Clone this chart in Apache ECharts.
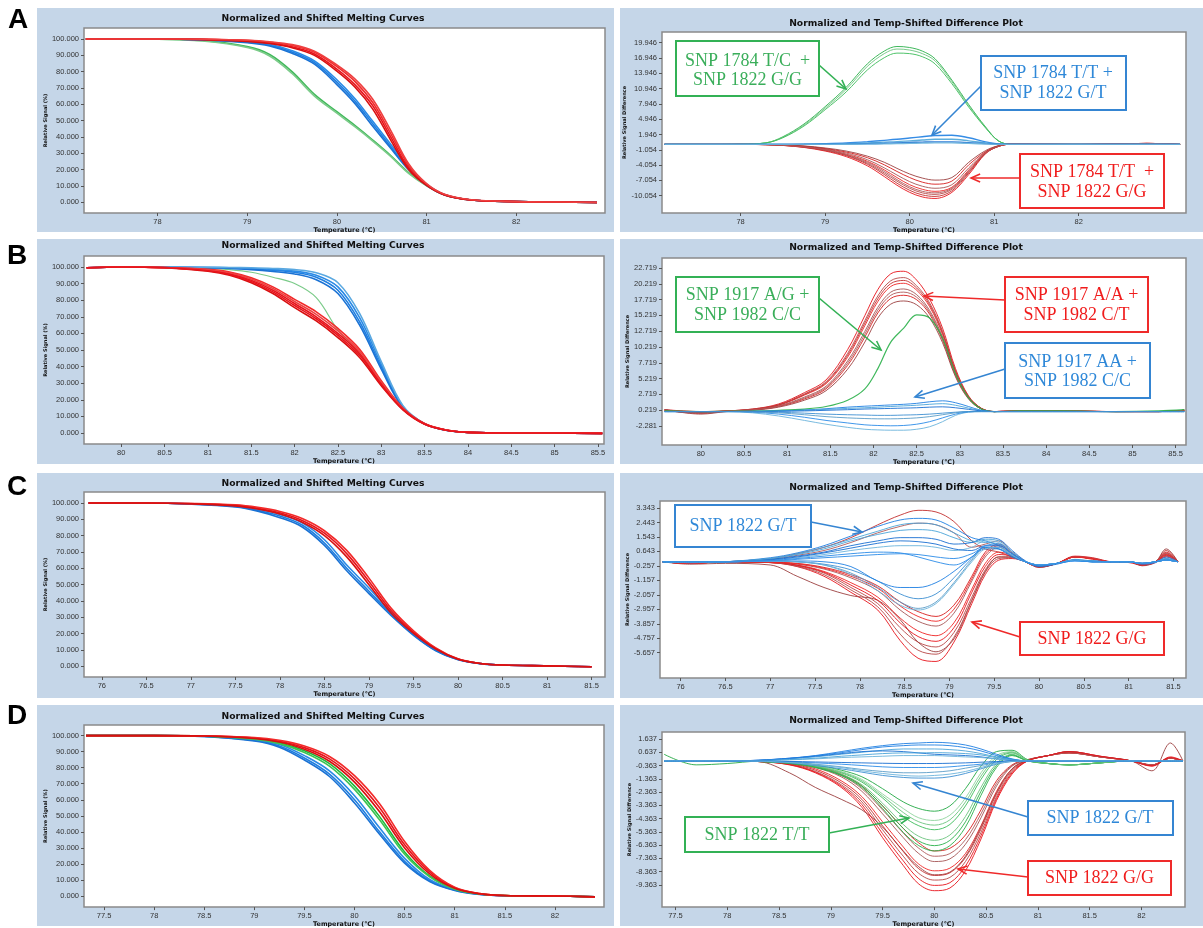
<!DOCTYPE html>
<html><head><meta charset="utf-8">
<script src="https://cdn.jsdelivr.net/npm/echarts@6/dist/echarts.min.js"></script>
<style>html,body{margin:0;padding:0;background:#fff}#c{width:1203px;height:928px}</style>
</head><body><div id="c"></div>
<script>
// ================= DATA =================
// ---- Panel A ----
const aMeltT = [77.2,78,78.5,79,79.25,79.5,79.75,80,80.2,80.4,80.6,80.8,81,81.2,81.5,82,82.5,82.9];
const aMeltRed = [
  [100,100,99.7,98.8,97.6,95.2,90.8,81.5,72,59,40,21,10.5,4.5,1.3,0.3,0,-0.3],
  [100,100,99.8,99.1,98.0,96.0,91.8,83.0,74,61,42,22.5,11,4.7,1.3,0.3,0,-0.3],
  [100,100,99.6,98.5,97.2,94.6,89.9,80.2,70.5,57,38,20,10.2,4.4,1.3,0.3,0,-0.3],
  [100,100,99.8,99.2,98.3,96.5,92.5,84,75.5,63,44,23.5,11.3,4.8,1.4,0.3,0,-0.2]
];
const aMeltBlue = [
  [100,100,99.5,98,96.2,92,85.5,73.5,62,48,34,20.5,10.5,4.5,1.3,0.3,0,-0.2],
  [100,100,99.6,98.3,96.7,92.8,86.5,75,63.5,49.5,35.5,21.5,11,4.6,1.3,0.3,0,-0.2],
  [100,100,99.4,97.7,95.7,91.2,84.5,72,60.5,46.5,33,19.8,10.2,4.4,1.3,0.3,0,-0.2]
];
const aMeltGreen = [
  [100,99.9,99,95.3,90.5,80,66,55.4,47,38,28.5,18,10.2,4.5,1.3,0.3,0,-0.2],
  [100,99.8,98.7,94.7,89.5,78.8,65,54.5,46.2,37.4,28,17.6,10,4.4,1.3,0.3,0,-0.2]
];
const aDiffT = [77.1,77.6,78,78.3,78.5,78.75,79,79.25,79.5,79.7,79.85,80,80.15,80.3,80.5,80.7,80.9,81.05,81.2,81.5,82,82.5,82.8,83.2];
const aDiffGreen = [
  [0,0,0.05,0.3,1.5,4.0,7.4,11.2,15.8,18.3,19.2,19.0,18.3,16.8,12.6,7.8,3.4,0.7,0,0,0,0,0,0],
  [0,0,0.05,0.3,1.4,3.8,7.1,10.8,15.3,17.8,18.7,18.5,17.8,16.4,12.3,7.6,3.3,0.7,0,0,0,0,0,0],
  [0,0,0.05,0.3,1.3,3.6,6.8,10.3,14.6,17.0,17.9,17.8,17.2,15.8,11.9,7.3,3.2,0.7,0,0,0,0,0,0]
];
const aDiffBlue = [
  [0,0,0,0,0,0.05,0.15,0.3,0.55,0.8,1.0,1.25,1.5,1.75,1.8,1.3,0.5,0.1,0,0,0,0,0,0],
  [0,0,0,0,0,0.02,0.08,0.15,0.3,0.45,0.55,0.7,0.85,1.0,1.0,0.7,0.3,0.05,0,0,0,0,0,0],
  [0,0,0,0,0,0,0.03,0.08,0.15,0.22,0.3,0.38,0.45,0.5,0.5,0.35,0.15,0.02,0,0,0,0,0,0],
  [0,0,0,0,0,0,0,0.02,0.05,0.1,0.15,0.2,0.25,0.3,0.3,0.2,0.08,0,0,0,0,0,0,0]
];
const aDiffRed = [
  [0,0,0,-0.05,-0.2,-0.6,-1.3,-2.4,-4.2,-6.3,-8.0,-9.4,-10.3,-10.6,-9.4,-5.9,-1.8,-0.4,0.05,0.05,0,0.1,0.2,0],
  [0,0,0,-0.05,-0.2,-0.5,-1.1,-2.1,-3.7,-5.6,-7.2,-8.6,-9.5,-9.8,-8.8,-5.4,-1.7,-0.4,0.05,0.05,0,0.1,0.15,0],
  [0,0,0,-0.05,-0.15,-0.45,-1.0,-1.9,-3.3,-5.0,-6.5,-7.9,-8.8,-9.2,-8.4,-5.0,-1.6,-0.35,0.05,0,0,0.1,0.2,0],
  [0,0,0,-0.04,-0.15,-0.4,-0.9,-1.7,-3.0,-4.6,-6.0,-7.3,-8.2,-8.6,-7.9,-4.6,-1.5,-0.3,0.05,0,0,0.05,0.15,0],
  [0,0,0,-0.03,-0.1,-0.35,-0.8,-1.5,-2.6,-4.0,-5.3,-6.5,-7.4,-7.8,-7.2,-4.0,-1.4,-0.3,0.05,0,0,0.1,0.2,0],
  [0,0,0,-0.03,-0.1,-0.3,-0.7,-1.3,-2.3,-3.5,-4.7,-5.8,-6.6,-7.0,-6.5,-3.5,-1.2,-0.25,0.05,0,0,0.05,0.1,0],
  [0,0,0,-0.04,-0.18,-0.55,-1.2,-2.2,-3.9,-5.9,-7.6,-9.0,-9.9,-10.2,-9.1,-5.6,-1.75,-0.4,0.05,0.05,0,0.1,0.2,0],
  [0,0,0,-0.04,-0.17,-0.48,-1.05,-2.0,-3.5,-5.3,-6.9,-8.3,-9.2,-9.5,-8.6,-5.2,-1.65,-0.38,0.05,0.03,0,0.08,0.18,0]
];
// ---- Panel B ----
const bMeltT = [79.6,80,80.5,81,81.25,81.5,81.75,82,82.25,82.5,82.75,83,83.25,83.5,83.75,84,84.5,85,85.55];
const bMeltRed = [
  [99.5,100,99.6,98,96,92,86,78,70,60,48,30,14.5,5.5,1.8,0.4,0,0,-0.2],
  [99.5,100,99.7,98.6,97,93.5,88,80.5,73,63,50.5,31.5,15,5.7,1.8,0.4,0,0,-0.2],
  [99.5,100,99.5,97.4,95,90.5,84,75.5,67.5,57.5,45.5,28.5,14,5.3,1.7,0.4,0,0,-0.2],
  [99.5,100,99.6,98.3,96.5,92.8,87,79.2,71.5,61.5,49.2,30.8,14.8,5.6,1.8,0.4,0,0,-0.2],
  [99.5,100,99.5,97.7,95.5,91.3,85,76.8,68.8,58.8,46.8,29.2,14.2,5.4,1.7,0.4,0,0,-0.2]
];
const bMeltBlue = [
  [99.5,100,99.8,99.6,99.3,98.8,98,96.8,93.8,86,67,40,15.5,5.5,1.7,0.4,0,0,-0.2],
  [99.5,100,99.8,99.7,99.5,99.1,98.5,97.5,95,88,69.5,41.5,16,5.6,1.7,0.4,0,0,-0.2],
  [99.5,100,99.8,99.5,99.1,98.4,97.3,95.8,92.3,84,65,38.5,15,5.4,1.7,0.4,0,0,-0.2],
  [99.5,100,99.9,99.8,99.7,99.5,99.1,98.4,96.5,90.5,72,43,16.5,5.7,1.7,0.4,0,0,-0.2]
];
const bMeltGreen = [
  [99.5,100,99.8,99.2,98.4,96.8,93.8,90,81.5,62,47.5,30,14.5,5.5,1.8,0.4,0,0,-0.2]
];
const bDiffT = [79.58,80,80.3,80.6,80.9,81.2,81.45,81.7,81.9,82.05,82.2,82.35,82.5,82.65,82.8,82.95,83.1,83.25,83.4,83.7,84.2,84.8,85.3,85.6];
const bDiffRed = [
  [0.3,0,0.1,0.4,1.2,3.0,5.0,9.8,15.2,19.3,21.8,22.2,20.8,17.8,13.2,6.8,2.5,0.5,0,0.1,0.1,0,0,0.2],
  [0.2,0,0.1,0.4,1.1,2.8,4.7,9.2,14.4,18.3,20.7,21.2,19.9,17.2,12.7,6.5,2.4,0.5,0,0.1,0.1,0,0,0.2],
  [0.2,-0.2,0.1,0.3,1.0,2.6,4.4,8.6,13.6,17.4,19.8,20.3,19.2,16.6,12.2,6.2,2.3,0.5,0,0.1,0.1,0,0,0.2],
  [0.3,-0.1,0.1,0.3,0.9,2.3,4.0,8.0,12.7,16.5,18.9,19.4,18.5,16.0,11.8,6.0,2.2,0.4,0,0.1,0.1,0,0,0.2],
  [0.2,-0.3,0.05,0.25,0.8,2.0,3.6,7.3,11.8,15.6,17.9,18.4,17.7,15.4,11.3,5.7,2.1,0.4,0,0.1,0.05,0,0,0.2],
  [0.3,-0.4,0,0.2,0.7,1.8,3.3,6.7,11.0,14.8,17.0,17.5,16.9,14.8,10.9,5.5,2.0,0.4,0,0.1,0.05,0,0,0.2],
  [0.25,-0.15,0.1,0.35,1.05,2.7,4.55,8.9,14.0,17.85,20.25,20.75,19.55,16.9,12.45,6.35,2.35,0.5,0,0.1,0.1,0,0,0.2],
  [0.25,-0.25,0.08,0.28,0.85,2.15,3.8,7.65,12.25,16.05,18.4,18.9,18.1,15.7,11.55,5.85,2.15,0.4,0,0.1,0.05,0,0,0.2]
];
const bDiffGreen = [
  [0.1,0,0.05,0.1,0.2,0.4,0.8,1.8,3.6,6.8,11.0,13.2,15.3,14.8,11.6,6.0,2.2,0.4,0,0.1,0.1,0,0.1,0.3]
];
const bDiffBlue = [
  [0,0,0,0.05,0.1,0.25,0.45,0.7,0.85,0.95,1.05,1.15,1.3,1.55,1.7,1.4,0.8,0.2,0,0,0,0,0,0],
  [0,0,0,0.03,0.08,0.2,0.35,0.5,0.6,0.7,0.8,0.9,1.0,1.15,1.25,1.0,0.55,0.15,0,0,0,0,0,0],
  [0,0,0,0,0.05,0.1,0.2,0.3,0.4,0.45,0.5,0.55,0.6,0.7,0.75,0.6,0.35,0.1,0,0,0,0,0,0],
  [0,0,0,-0.2,-0.7,-1.4,-2.0,-2.5,-2.8,-2.9,-2.95,-2.95,-2.8,-2.4,-1.6,-0.6,-0.1,0,0,0,0,0,0,0],
  [0,0,0,-0.1,-0.4,-0.9,-1.4,-1.8,-2.1,-2.2,-2.25,-2.2,-2.0,-1.6,-1.0,-0.4,-0.05,0,0,0,0,0,0,0],
  [0,0,0,-0.05,-0.2,-0.5,-0.8,-1.0,-1.1,-1.15,-1.15,-1.1,-1.0,-0.8,-0.5,-0.2,0,0,0,0,0,0,0,0],
  [0,0,0,0,-0.1,-0.25,-0.4,-0.5,-0.55,-0.6,-0.6,-0.55,-0.5,-0.4,-0.25,-0.1,0,0,0,0,0,0,0,0]
];
// ---- Panel C ----
const cMeltT = [75.85,76.5,77,77.5,77.75,78,78.25,78.5,78.75,79,79.25,79.5,79.75,80,80.25,80.5,81,81.5];
const cMeltRed = [
  [100,100,99.6,98.5,96.8,94,89.3,81.5,69,52,34,21,11,4.5,1.8,0.8,0.3,-0.2],
  [100,100,99.7,98.8,97.3,94.8,90.5,83,71,54,35.5,21.8,11.3,4.6,1.8,0.8,0.3,-0.2],
  [100,100,99.5,98.2,96.3,93.2,88.2,80,67,50,32.5,20.2,10.6,4.4,1.8,0.8,0.3,-0.2]
];
const cMeltBlue = [
  [100,100,99.4,97.8,95.5,92,86.5,75.5,60,46,32,19.5,9.8,4.2,1.7,0.8,0.3,-0.2],
  [100,100,99.5,98.1,96.1,93,87.8,77.5,62,48,33,20,10,4.3,1.7,0.8,0.3,-0.2],
  [100,100,99.3,97.5,95,91,85.3,74,58.5,44.5,31,19,9.6,4.1,1.7,0.8,0.3,-0.2]
];
const cDiffT = [75.8,76.1,76.5,77,77.3,77.6,77.9,78.2,78.45,78.65,78.85,79.05,79.25,79.4,79.55,79.7,79.85,80,80.2,80.4,80.6,80.8,81,81.15,81.3,81.42,81.55];
const cDiffRed = [
  [0,-0.1,0,-0.05,-0.3,-0.9,-1.9,-3.0,-4.9,-6.0,-6.2,-5.0,-2.6,-0.8,0.1,0.2,0,-0.35,-0.1,0.35,0.25,0,-0.05,-0.2,-0.05,0.6,0],
  [0,-0.1,0,-0.05,-0.25,-0.7,-1.6,-2.6,-4.1,-5.0,-5.3,-4.4,-2.2,-0.5,0.3,0.3,0,-0.3,-0.1,0.3,0.2,0,0,-0.2,0,0.5,0],
  [0,-0.1,0,-0.05,-0.2,-0.6,-1.3,-2.2,-3.5,-4.3,-4.6,-3.8,-1.7,-0.1,0.6,0.4,0,-0.3,-0.1,0.3,0.2,0,0,-0.2,0,0.4,0],
  [0,-0.1,0,-0.03,-0.15,-0.45,-1.0,-1.8,-3.0,-3.7,-4.0,-3.2,-1.2,0.3,0.9,0.5,0,-0.3,-0.1,0.3,0.2,0,0,-0.2,0,0.4,0],
  [0,-0.1,0,-0.03,-0.1,-0.35,-0.8,-1.5,-2.5,-3.1,-3.4,-2.7,-0.9,0.6,1.1,0.6,0,-0.3,-0.1,0.3,0.15,0,0,-0.2,0,0.3,0],
  [0,-0.15,-0.1,-0.2,-0.9,-1.6,-2.1,-2.4,-3.6,-5.0,-5.6,-4.8,-2.4,-0.6,0.3,0.3,0,-0.35,-0.1,0.3,0.2,0,0,-0.25,0,0.8,0],
  [0,-0.05,0,0.2,0.5,0.9,1.5,2.3,2.9,3.2,3.1,2.5,1.3,0.8,0.6,0.3,0,-0.3,-0.1,0.3,0.2,0,0,-0.2,0,0.7,0],
  [0,-0.05,0,0.15,0.4,0.7,1.2,1.8,2.2,2.4,2.3,1.8,0.9,1.1,1.3,0.6,0,-0.3,-0.1,0.3,0.2,0,0,-0.2,0,0.5,0],
  [0,-0.1,0,-0.04,-0.22,-0.65,-1.45,-2.4,-3.8,-4.65,-4.95,-4.1,-1.9,-0.3,0.45,0.35,0,-0.3,-0.1,0.3,0.2,0,0,-0.2,0,0.45,0],
  [0,-0.1,0,-0.05,-0.28,-0.8,-1.75,-2.8,-4.5,-5.5,-5.75,-4.7,-2.4,-0.65,0.2,0.25,0,-0.32,-0.1,0.32,0.22,0,0,-0.2,0,0.55,0],
  [0,-0.1,0,-0.03,-0.12,-0.4,-0.9,-1.65,-2.75,-3.4,-3.7,-2.95,-1.05,0.45,1.0,0.55,0,-0.3,-0.1,0.3,0.18,0,0,-0.2,0,0.35,0]
];
const cDiffBlue = [
  [0,-0.05,0,0.25,0.55,1.0,1.6,2.2,2.6,2.7,2.6,2.1,1.5,1.3,1.0,0.4,0,-0.2,-0.1,0.1,0.05,0,0,-0.15,-0.05,0.3,0],
  [0,-0.05,0,0.2,0.45,0.8,1.3,1.7,1.95,2.0,1.9,1.5,1.2,1.4,1.3,0.6,0,-0.25,-0.1,0.15,0.05,0,0,-0.1,0,0.15,0],
  [0,-0.05,0,0.15,0.35,0.6,1.0,1.3,1.5,1.5,1.4,1.1,1.2,1.5,1.4,0.7,0.05,-0.3,-0.15,0.1,0.05,0,0,-0.1,0,0.2,0],
  [0,0,0,0.1,0.25,0.45,0.7,0.9,1.0,1.0,0.9,0.7,0.9,1.3,1.2,0.6,0,-0.25,-0.1,0.1,0,0,0,-0.1,0,0.1,0],
  [0,0,0,0.05,0.15,0.25,0.35,0.45,0.5,0.45,0.3,0.2,0.5,0.9,0.8,0.4,0,-0.2,-0.1,0.05,0,0,0,-0.1,0,0.1,0],
  [0,0,0,0.05,0,-0.2,-0.7,-1.6,-2.5,-2.9,-2.5,-1.3,0.1,0.9,0.9,0.4,0,-0.2,-0.1,0.1,0,0,0,-0.1,0,0.1,0],
  [0,0,0,0.05,0,-0.15,-0.5,-1.2,-2.0,-2.3,-2.0,-1.0,0.2,0.8,0.8,0.35,0,-0.2,-0.1,0.1,0,0,0,-0.1,0,0.1,0],
  [0,0,0,0.05,0.05,0,-0.3,-1.2,-1.6,-1.6,-1.3,-0.6,0.3,0.9,0.8,0.3,0,-0.2,-0.1,0.1,0,0,0,-0.1,0,0.1,0],
  [0,-0.05,0,0.2,0.5,0.9,1.4,1.9,2.3,2.4,2.3,1.8,1.3,1.2,1.1,0.5,0,-0.2,-0.1,0.1,0.05,0,0,-0.1,0,0.2,0],
  [0,0,0,0.12,0.3,0.55,0.85,1.15,1.3,1.25,1.1,0.8,0.7,1.0,1.0,0.5,0,-0.25,-0.1,0.1,0,0,0,-0.1,0,0.1,0],
  [0,0,0,0.05,0,-0.2,-0.8,-1.8,-2.7,-3.0,-2.6,-1.4,0.0,0.8,0.9,0.4,0,-0.2,-0.1,0.1,0,0,0,-0.1,0,0.1,0],
  [0,0,0,0.08,0.2,0.35,0.5,0.6,0.55,0.3,0.0,-0.2,0.3,1.0,1.1,0.5,0,-0.2,-0.1,0.05,0,0,0,-0.1,0,0.1,0]
];
// ---- Panel D ----
const dMeltT = [77.32,78,78.5,79,79.25,79.5,79.75,80,80.25,80.5,80.75,81,81.25,81.5,82,82.4];
const dMeltRed = [
  [100,100,99.8,98.5,96.5,92.5,85.5,73,55,32,15,5.2,1.5,0.3,0,-0.5],
  [100,100,99.8,98.8,97,93.5,87,75,57.5,34,16,5.5,1.5,0.3,0,-0.5],
  [100,100,99.7,98.2,96,91.5,84,71,52.5,30,13.8,4.8,1.4,0.3,0,-0.5]
];
const dMeltGreen = [
  [100,100,99.7,98,95.5,90.5,82.5,68.5,49.5,27.5,12.5,4.5,1.3,0.3,0,-0.5],
  [100,100,99.6,97.7,95,89.5,81,66.5,47.5,26,12,4.3,1.3,0.3,0,-0.5]
];
const dMeltBlue = [
  [100,100,99.5,97,93.5,86,76,60,40,21.7,9.5,3.7,1.1,0.2,0,-0.5],
  [100,100,99.6,97.5,94.5,87.5,78,62.5,42.5,23.5,10.3,3.9,1.1,0.2,0,-0.5],
  [100,100,99.4,96.6,92.8,84.8,74.5,58,38.5,20.5,9,3.5,1,0.2,0,-0.5]
];
const dDiffT = [77.39,77.7,78,78.3,78.6,78.85,79.1,79.3,79.5,79.7,79.85,80,80.15,80.3,80.45,80.6,80.75,80.9,81.1,81.3,81.6,81.9,82.1,82.28,82.4];
const dDiffRed = [
  [0,0,0,-0.05,-0.3,-0.9,-2.0,-3.5,-5.8,-7.9,-9.3,-9.8,-9.6,-8.3,-5.9,-3.0,-1.0,0,0.4,0.7,0.35,0,-0.4,0.3,0],
  [0,0,0,-0.05,-0.25,-0.8,-1.8,-3.1,-5.2,-7.2,-8.5,-9.0,-8.8,-7.6,-5.4,-2.7,-0.8,0,0.4,0.7,0.35,0,-0.35,0.2,0],
  [0,0,0,-0.05,-0.2,-0.6,-1.5,-2.7,-4.6,-6.5,-7.8,-8.3,-8.1,-7.0,-4.9,-2.3,-0.6,0.05,0.4,0.6,0.3,0,-0.3,0.2,0],
  [0,0,0,-0.03,-0.15,-0.5,-1.2,-2.3,-4.0,-5.8,-7.0,-7.6,-7.4,-6.3,-4.3,-1.9,-0.4,0.05,0.4,0.6,0.3,0,-0.3,0.2,0],
  [0,0,0,-0.03,-0.1,-0.4,-1.0,-1.9,-3.4,-5.1,-6.2,-6.8,-6.6,-5.6,-3.7,-1.5,-0.3,0.1,0.4,0.6,0.3,0,-0.3,0.2,0],
  [0,0,0,-0.05,-0.9,-2.0,-2.9,-3.7,-5.0,-6.8,-8.0,-8.6,-8.4,-7.2,-5.0,-2.4,-0.6,0.05,0.4,0.7,0.3,0,-0.75,1.35,0],
  [0,0,0,-0.04,-0.22,-0.7,-1.65,-2.9,-4.9,-6.85,-8.15,-8.65,-8.45,-7.3,-5.15,-2.5,-0.7,0.03,0.4,0.65,0.32,0,-0.32,0.2,0],
  [0,0,0,-0.03,-0.12,-0.45,-1.1,-2.1,-3.7,-5.45,-6.6,-7.2,-7.0,-5.95,-4.0,-1.7,-0.35,0.08,0.4,0.6,0.3,0,-0.3,0.2,0],
  [0,0,0,-0.05,-0.28,-0.85,-1.9,-3.3,-5.5,-7.55,-8.9,-9.4,-9.2,-7.95,-5.65,-2.85,-0.9,0,0.4,0.7,0.35,0,-0.38,0.25,0]
];
const dDiffGreen = [
  [0,0,0,-0.05,-0.2,-0.5,-1.1,-2.0,-3.6,-5.4,-6.4,-6.8,-6.4,-5.0,-2.6,-0.5,0.4,0,-0.2,-0.3,-0.15,0,0,0,0],
  [0,0,0,-0.05,-0.15,-0.45,-1.0,-1.8,-3.2,-4.8,-5.7,-6.0,-5.6,-4.2,-2.0,-0.2,0.5,0,-0.2,-0.3,-0.15,0,0,0,0],
  [0,0,0,-0.04,-0.15,-0.4,-0.9,-1.6,-2.8,-4.2,-4.9,-5.2,-4.8,-3.4,-1.4,0.1,0.6,0.05,-0.2,-0.3,-0.15,0,0,0,0],
  [0,0,0,-0.03,-0.1,-0.35,-0.8,-1.4,-2.5,-3.6,-4.3,-4.5,-4.1,-2.8,-0.9,0.4,0.7,0.05,-0.2,-0.3,-0.15,0,0,0,0],
  [0.5,-0.3,-0.2,-0.03,-0.1,-0.3,-0.7,-1.2,-2.1,-3.1,-3.6,-3.8,-3.4,-2.1,-0.4,0.7,0.8,0.1,-0.2,-0.3,-0.15,0,0,0,0],
  [0,0,0,-0.04,-0.17,-0.47,-1.05,-1.9,-3.4,-5.1,-6.05,-6.4,-6.0,-4.6,-2.3,-0.35,0.45,0,-0.2,-0.3,-0.15,0,0,0,0],
  [0,0,0,-0.03,-0.12,-0.38,-0.85,-1.5,-2.65,-3.9,-4.6,-4.85,-4.45,-3.1,-1.15,0.25,0.65,0.05,-0.2,-0.3,-0.15,0,0,0,0]
];
const dDiffBlue = [
  [0,0,0,0.05,0.2,0.4,0.7,0.95,1.15,1.3,1.35,1.4,1.35,1.2,0.9,0.5,0.15,0,0,0,0,0,0,0,0],
  [0,0,0,0.03,0.15,0.3,0.5,0.65,0.8,0.9,0.9,0.9,0.85,0.75,0.55,0.3,0.1,0,0,0,0,0,0,0,0],
  [0,0,0,0.05,0.2,0.35,0.55,0.7,0.75,0.7,0.6,0.5,0.45,0.4,0.3,0.15,0.05,0,0,0,0,0,0,0,0],
  [0,0,0,0.02,0.08,0.15,0.25,0.3,0.35,0.4,0.4,0.4,0.35,0.3,0.25,0.15,0.05,0,0,0,0,0,0,0,0],
  [0,0,0,-0.02,-0.08,-0.15,-0.25,-0.35,-0.45,-0.5,-0.5,-0.5,-0.45,-0.35,-0.25,-0.1,0,0,0,0,0,0,0,0,0],
  [0,0,0,-0.03,-0.1,-0.25,-0.45,-0.65,-0.8,-0.9,-0.9,-0.85,-0.75,-0.55,-0.35,-0.15,0,0,0,0,0,0,0,0,0],
  [0,0,0,-0.03,-0.15,-0.35,-0.6,-0.85,-1.1,-1.25,-1.3,-1.3,-1.2,-0.95,-0.6,-0.25,-0.05,0,0,0,0,0,0,0,0],
  [0,0,0,0.04,0.18,0.38,0.62,0.85,1.05,1.15,1.2,1.2,1.15,1.0,0.75,0.4,0.12,0,0,0,0,0,0,0,0],
  [0,0,0,0.02,0.1,0.2,0.35,0.45,0.55,0.6,0.6,0.62,0.6,0.55,0.45,0.25,0.08,0,0,0,0,0,0,0,0],
  [0,0,0,-0.01,-0.04,-0.08,-0.12,-0.15,-0.18,-0.2,-0.2,-0.2,-0.18,-0.15,-0.1,-0.05,0,0,0,0,0,0,0,0,0],
  [0,0,0,-0.02,-0.12,-0.3,-0.5,-0.75,-0.95,-1.1,-1.15,-1.1,-1.0,-0.8,-0.5,-0.2,-0.03,0,0,0,0,0,0,0,0]
];
// ---- Tick labels ----
const meltYTicks = [0,10,20,30,40,50,60,70,80,90,100];
const aXTicks = [78,79,80,81,82];
const aDiffYTicks = [19.946,16.946,13.946,10.946,7.946,4.946,1.946,-1.054,-4.054,-7.054,-10.054];
const bXTicks = [80,80.5,81,81.5,82,82.5,83,83.5,84,84.5,85,85.5];
const bDiffYTicks = [22.719,20.219,17.719,15.219,12.719,10.219,7.719,5.219,2.719,0.219,-2.281];
const cXTicks = [76,76.5,77,77.5,78,78.5,79,79.5,80,80.5,81,81.5];
const cDiffYTicks = [3.343,2.443,1.543,0.643,-0.257,-1.157,-2.057,-2.957,-3.857,-4.757,-5.657];
const dXTicks = [77.5,78,78.5,79,79.5,80,80.5,81,81.5,82];
const dDiffYTicks = [1.637,0.637,-0.363,-1.363,-2.363,-3.363,-4.363,-5.363,-6.363,-7.363,-8.363,-9.363];

// ================= STYLE / LAYOUT =================
const RED = ['#e8141c','#b84848','#f02626','#a65656','#d81e1e','#9c4040','#c23030','#b05a5a'];
const BLUE = ['#1f80e2','#4aa4d8','#1a6fd2','#6cb4dc','#2b8ce8','#5a9cc8','#3d8fd2'];
const GREEN = ['#2ab04a','#6cc47e','#3cbc5a','#8fd49c','#22a844'];
const MELT_RED = ['#e8141c','#f22a2a','#d81010','#ee4040'];
const MELT_BLUE = ['#1f7fe0','#2a8ae6','#1a72d4','#5aa8e0'];
const MELT_GREEN = ['#40b95a','#7ccb8a'];

const grids = [
  {left:84, top:28, width:521, height:185},
  {left:662, top:32, width:524, height:181},
  {left:84, top:256, width:520, height:188},
  {left:662, top:258, width:524, height:187},
  {left:84, top:492, width:521, height:185},
  {left:660, top:501, width:526, height:177},
  {left:84, top:725, width:520, height:185},
  {left:662, top:732, width:523, height:179}
];
const xr = [[77.18,82.99],[77.07,83.27],[79.57,85.57],[79.55,85.62],[75.8,81.65],[75.77,81.64],[77.3,82.49],[77.37,82.42]];
const yr = [[-6.7,106.7],[-13.45,22.04],[-6.6,106.6],[-5.29,24.3],[-6.5,106.7],[-7.23,3.78],[-6.9,106.6],[-11.04,2.18]];
const xt = [aXTicks,aXTicks,bXTicks,bXTicks,cXTicks,cXTicks,dXTicks,dXTicks];
const yt = [meltYTicks,aDiffYTicks,meltYTicks,bDiffYTicks,meltYTicks,cDiffYTicks,meltYTicks,dDiffYTicks];

const xAxes = [], yAxes = [];
grids.forEach((g,i)=>{
  xAxes.push({
    type:'value', gridIndex:i, min:xr[i][0], max:xr[i][1],
    axisLine:{show:false,onZero:false},
    axisTick:{show:true,length:3,lineStyle:{color:'#555',width:1},customValues:xt[i]},
    axisLabel:{show:true,margin:5,fontSize:7.5,color:'#333',fontFamily:'Liberation Sans',customValues:xt[i],formatter:v=>String(v)},
    splitLine:{show:false},
    name:'Temperature (°C)', nameLocation:'middle', nameGap:11,
    nameTextStyle:{fontSize:6.4,fontWeight:'bold',color:'#111',fontFamily:'DejaVu Sans'}
  });
  const diff = i%2===1;
  yAxes.push({
    type:'value', gridIndex:i, min:yr[i][0], max:yr[i][1],
    axisLine:{show:false,onZero:false},
    axisTick:{show:true,length:3,lineStyle:{color:'#555',width:1},customValues:yt[i]},
    axisLabel:{show:true,margin:5,fontSize:7.5,color:'#333',fontFamily:'Liberation Sans',customValues:yt[i],formatter:v=>v.toFixed(3)},
    splitLine:{show:false},
    name: diff?'Relative Signal Difference':'Relative Signal (%)', nameLocation:'middle', nameGap: diff?27:31,
    nameTextStyle:{fontSize:5,fontWeight:'bold',color:'#111',fontFamily:'DejaVu Sans'}
  });
});

const series = [];
function addGroup(gi, temps, curves, colors, width, op){
  curves.forEach((c,i)=>series.push({
    type:'line', xAxisIndex:gi, yAxisIndex:gi,
    data: temps.map((t,k)=>[t,c[k]]),
    showSymbol:false, symbol:'none', smooth:0.35, silent:true, animation:false,
    lineStyle:{color:colors[i%colors.length], width:width, opacity:op}
  }));
}
// A
addGroup(0, aMeltT, aMeltGreen, MELT_GREEN, 1.6, 1);
addGroup(0, aMeltT, aMeltBlue, MELT_BLUE, 1.6, 1);
addGroup(0, aMeltT, aMeltRed, MELT_RED, 1.6, 1);
addGroup(1, aDiffT, aDiffGreen, GREEN, 1, 0.9);
addGroup(1, aDiffT, aDiffRed, RED, 1, 0.9);
addGroup(1, aDiffT, aDiffBlue, BLUE, 1.4, 0.9);
// B
addGroup(2, bMeltT, bMeltGreen, MELT_GREEN.slice(1), 1.2, 1);
addGroup(2, bMeltT, bMeltBlue, MELT_BLUE, 1.6, 1);
addGroup(2, bMeltT, bMeltRed, MELT_RED, 1.6, 1);
addGroup(3, bDiffT, bDiffRed, RED, 1, 0.9);
addGroup(3, bDiffT, bDiffGreen, GREEN, 1.2, 0.9);
addGroup(3, bDiffT, bDiffBlue, BLUE, 1, 0.9);
// C
addGroup(4, cMeltT, cMeltBlue, MELT_BLUE, 1.6, 1);
addGroup(4, cMeltT, cMeltRed, MELT_RED, 1.6, 1);
addGroup(5, cDiffT, cDiffRed, RED, 1, 0.9);
addGroup(5, cDiffT, cDiffBlue, BLUE, 1, 0.9);
// D
addGroup(6, dMeltT, dMeltBlue, MELT_BLUE, 1.6, 1);
addGroup(6, dMeltT, dMeltGreen, ['#1fb83a','#3cc454'], 1.6, 1);
addGroup(6, dMeltT, dMeltRed, MELT_RED, 1.6, 1);
addGroup(7, dDiffT, dDiffRed, RED, 1, 0.9);
addGroup(7, dDiffT, dDiffGreen, GREEN, 1, 0.9);
addGroup(7, dDiffT, dDiffBlue, BLUE, 1, 0.9);

// ---- graphics ----
const BG = '#c5d6e8';
const graphic = [];
[[8,224],[239,225],[473,225],[705,221]].forEach(([y,h])=>{
  graphic.push({type:'rect',shape:{x:37,y:y,width:577,height:h},style:{fill:BG},z:-10,silent:true});
  graphic.push({type:'rect',shape:{x:620,y:y,width:583,height:h},style:{fill:BG},z:-10,silent:true});
});
const titleL = 'Normalized and Shifted Melting Curves';
const titleR = 'Normalized and Temp-Shifted Difference Plot';
[[19,24],[246,248],[484,488],[717,721]].forEach(([yl,yr2])=>{
  graphic.push({type:'text',x:323,y:yl,style:{text:titleL,fill:'#111',fontSize:9.2,fontWeight:'bold',fontFamily:'DejaVu Sans',align:'center',verticalAlign:'middle'},z:5,silent:true});
  graphic.push({type:'text',x:906,y:yr2,style:{text:titleR,fill:'#111',fontSize:9.2,fontWeight:'bold',fontFamily:'DejaVu Sans',align:'center',verticalAlign:'middle'},z:5,silent:true});
});
[['A',18,20],['B',17,256],['C',17,487],['D',17,716]].forEach(([t,x,y])=>{
  graphic.push({type:'text',x:x,y:y,style:{text:t,fill:'#000',fontSize:28,fontWeight:'bold',fontFamily:'Liberation Sans Narrow, Liberation Sans, Arial',align:'center',verticalAlign:'middle'},z:5,silent:true});
});
const ANN = {
  green:{stroke:'#33b155', text:'#3aae5a'},
  blue:{stroke:'#3585d2', text:'#2f88d8'},
  red:{stroke:'#ef2a2a', text:'#f01c1c'}
};
const annotations = [
  {c:'green', box:[676,41,143,55], lines:['SNP 1784 T/C  +','SNP 1822 G/G'], ys:[61,80], cx:747.5, arrow:[819,65,846,89]},
  {c:'blue', box:[981,56,145,54], lines:['SNP 1784 T/T +','SNP 1822 G/T'], ys:[73,93], cx:1053, arrow:[981,86,932,135]},
  {c:'red', box:[1020,154,144,54], lines:['SNP 1784 T/T  +','SNP 1822 G/G'], ys:[172,192], cx:1092, arrow:[1020,178,971,178]},
  {c:'green', box:[676,277,143,55], lines:['SNP 1917 A/G +','SNP 1982 C/C'], ys:[295,315], cx:747.5, arrow:[819,298,881,350]},
  {c:'red', box:[1005,277,143,55], lines:['SNP 1917 A/A +','SNP 1982 C/T'], ys:[295,315], cx:1076.5, arrow:[1005,300,924,296]},
  {c:'blue', box:[1005,343,145,55], lines:['SNP 1917 AA +','SNP 1982 C/C'], ys:[362,381], cx:1077.5, arrow:[1005,369,915,397]},
  {c:'blue', box:[675,505,136,42], lines:['SNP 1822 G/T'], ys:[526], cx:743, arrow:[811,522,862,532]},
  {c:'red', box:[1020,622,144,33], lines:['SNP 1822 G/G'], ys:[639], cx:1092, arrow:[1020,637,972,622]},
  {c:'green', box:[685,817,144,35], lines:['SNP 1822 T/T'], ys:[835], cx:757, arrow:[829,833,909,818]},
  {c:'blue', box:[1028,801,145,34], lines:['SNP 1822 G/T'], ys:[818], cx:1100, arrow:[1028,817,913,783]},
  {c:'red', box:[1028,861,143,34], lines:['SNP 1822 G/G'], ys:[878], cx:1099.5, arrow:[1028,877,958,869]}
];
annotations.forEach(a=>{
  const col = ANN[a.c];
  const [x1,y1,x2,y2] = a.arrow;
  const ang = Math.atan2(y2-y1, x2-x1), L = 10, s = 0.42;
  const h1 = [x2 - L*Math.cos(ang-s), y2 - L*Math.sin(ang-s)];
  const h2 = [x2 - L*Math.cos(ang+s), y2 - L*Math.sin(ang+s)];
  graphic.push({type:'polyline',shape:{points:[[x1,y1],[x2,y2]]},style:{stroke:col.stroke,lineWidth:1.6,fill:null},z:100,silent:true});
  graphic.push({type:'polyline',shape:{points:[h1,[x2,y2],h2]},style:{stroke:col.stroke,lineWidth:1.6,fill:null},z:100,silent:true});
  graphic.push({type:'rect',shape:{x:a.box[0],y:a.box[1],width:a.box[2],height:a.box[3]},style:{fill:'#fff',stroke:col.stroke,lineWidth:2},z:101,silent:true});
  a.lines.forEach((t,k)=>graphic.push({type:'text',x:a.cx,y:a.ys[k],style:{text:t,fill:col.text,fontSize:18,fontFamily:'Liberation Serif, Times New Roman, serif',align:'center',verticalAlign:'middle'},z:102,silent:true}));
});

const chart = echarts.init(document.getElementById('c'), null, {renderer:'canvas'});
chart.setOption({
  animation:false,
  backgroundColor:'#fff',
  grid: grids.map(g=>Object.assign({show:true,backgroundColor:'#fff',borderColor:'#8a8a8a',borderWidth:1.5,z:0},g)),
  xAxis:xAxes, yAxis:yAxes, series:series, graphic:graphic
});
</script></body></html>
